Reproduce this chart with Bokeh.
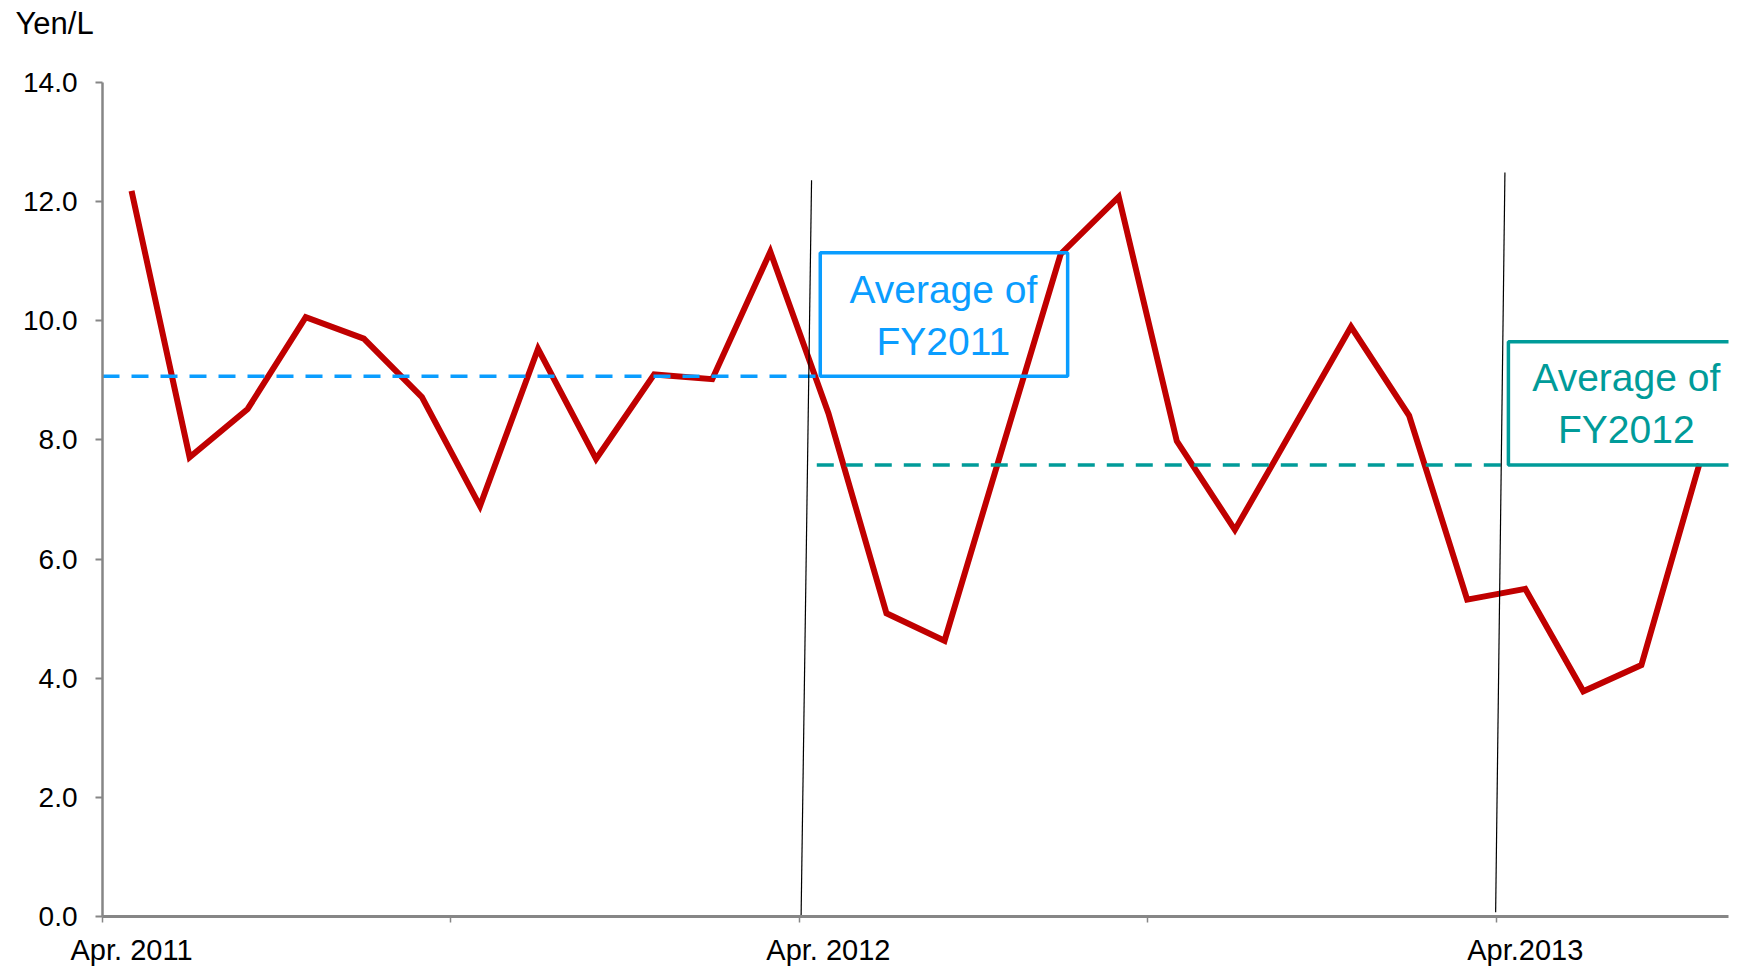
from bokeh.plotting import figure
from bokeh.models import Range1d, FixedTicker, PrintfTickFormatter
from bokeh.embed import file_html
from bokeh.resources import INLINE
from bokeh.core.properties import value

# ---------------- data ----------------
months = ["2011-04", "2011-05", "2011-06", "2011-07", "2011-08", "2011-09",
          "2011-10", "2011-11", "2011-12", "2012-01", "2012-02", "2012-03",
          "2012-04", "2012-05", "2012-06", "2012-07", "2012-08", "2012-09",
          "2012-10", "2012-11", "2012-12", "2013-01", "2013-02", "2013-03",
          "2013-04", "2013-05", "2013-06", "2013-07"]
price = [12.18, 7.71, 8.52, 10.06, 9.70, 8.72, 6.89, 9.53, 7.68, 9.10, 9.02, 11.16,
         8.45, 5.09, 4.63, 7.88, 11.12, 12.08, 7.98, 6.49, 8.19, 9.90, 8.41, 5.32,
         5.50, 3.78, 4.22, 7.60]
fy_names = ["FY2011", "FY2012"]
fy_avg = [9.07, 7.58]
x_label_months = ["2011-04", "2012-04", "2013-04"]
x_label_text = ["Apr. 2011", "Apr. 2012", "Apr.2013"]
y_ticks = [0, 2, 4, 6, 8, 10, 12, 14]
unit_label = "Yen/L"

# ---------------- style ----------------
RED = "#C00000"
BLUE = "#0A9DFF"
TEAL = "#009B99"
GRAY = "#868686"
FONT = "Liberation Sans"

n = len(months)
xs = [i + 0.5 for i in range(n)]

p = figure(width=1737, height=968, x_range=Range1d(0, n), y_range=Range1d(0, 14),
           output_backend="svg", toolbar_location=None,
           min_border_left=102, min_border_right=9, min_border_top=82, min_border_bottom=52)
p.outline_line_color = None
p.grid.visible = False
p.background_fill_color = "white"
p.border_fill_color = "white"

# unit label as title
p.title.text = unit_label
p.title.align = "left"
p.title.vertical_align = "bottom"
p.title.offset = -87
p.title.standoff = 0
p.title.padding = dict(left=0, right=0, top=0, bottom=42)
p.title.text_font = FONT
p.title.text_font_size = "31px"
p.title.text_font_style = "normal"
p.title.text_color = "black"

# y axis
ya = p.yaxis[0]
ya.ticker = FixedTicker(ticks=y_ticks)
ya.formatter = PrintfTickFormatter(format="%.1f")
ya.axis_line_color = GRAY
ya.axis_line_width = 2.5
ya.major_tick_line_color = GRAY
ya.major_tick_line_width = 2
ya.major_tick_out = 7
ya.major_tick_in = 0
ya.minor_tick_line_color = None
ya.major_label_standoff = 18
ya.major_label_text_font = FONT
ya.major_label_text_font_size = "28px"
ya.major_label_text_color = "black"

# x axis
label_pos = [months.index(m) + 0.5 for m in x_label_months]
xa = p.xaxis[0]
xa.ticker = FixedTicker(ticks=label_pos, minor_ticks=[0, 6, 12, 18, 24])
xa.major_label_overrides = {pos: txt for pos, txt in zip(label_pos, x_label_text)}
xa.axis_line_color = GRAY
xa.axis_line_width = 3
xa.major_tick_line_color = None
xa.major_tick_out = 0
xa.major_tick_in = 0
xa.minor_tick_line_color = GRAY
xa.minor_tick_line_width = 1.5
xa.minor_tick_out = 6
xa.minor_tick_in = 0
xa.major_label_standoff = 11
xa.major_label_text_font = FONT
xa.major_label_text_font_size = "29px"
xa.major_label_text_color = "black"

# main series
p.line(xs, price, line_color=RED, line_width=6, line_join="miter")

# average lines and boxes (annotation layout)
box1 = dict(left=12.36, right=16.62, height=2.07)
box2 = dict(left=24.21, right=31.0, height=2.07)
p.line([0, box1["left"]], [fy_avg[0]] * 2, line_color=BLUE, line_width=3.5, line_dash="17 12")
p.line([12.30, box2["left"]], [fy_avg[1]] * 2, line_color=TEAL, line_width=3.5, line_dash="17 12")

p.quad(left=[box1["left"]], right=[box1["right"]], bottom=[fy_avg[0]],
       top=[fy_avg[0] + box1["height"]], fill_color=None, line_color=BLUE, line_width=3.5)
p.quad(left=[box2["left"]], right=[box2["right"]], bottom=[fy_avg[1]],
       top=[fy_avg[1] + box2["height"]], fill_color=None, line_color=TEAL, line_width=3.5)

for (cx, base, col, name, avg) in [(14.48, 1.46, BLUE, fy_names[0], fy_avg[0]),
                                   (26.24, 1.47, TEAL, fy_names[1], fy_avg[1])]:
    p.text(x=[cx, cx], y=[avg + base, avg + base - 0.88], text=["Average of", name],
           text_color=col, text_font=value(FONT), text_font_size=value("39px"),
           text_align="center", text_baseline="alphabetic")

# fiscal-year boundary markers (thin slanted black lines)
p.segment(x0=[12.03, 23.99], y0=[0.0, 0.07], x1=[12.21, 24.15], y1=[12.36, 12.49],
          line_color="black", line_width=1.2)

open("out.html", "w").write(file_html(p, INLINE))
